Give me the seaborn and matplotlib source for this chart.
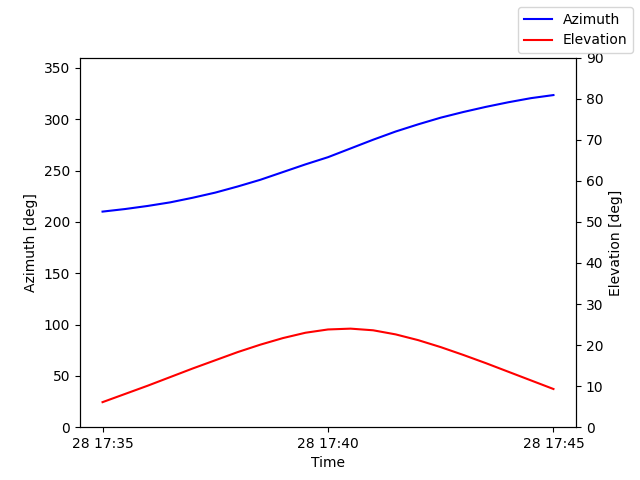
import pandas as pd
import matplotlib
matplotlib.use("Agg")
import matplotlib.pyplot as plt
import matplotlib.dates as mdates
import seaborn as sns

times = pd.date_range("2024-01-28 17:35:00", "2024-01-28 17:45:00", freq="30s")
azimuth = [210, 212.5, 215.5, 219, 223.5, 228.5, 234.5, 241, 248.5, 256, 263,
           271.5, 280, 288, 295, 301.5, 307, 312, 316.5, 320.5, 323.5]
elevation = [6.1, 8.1, 10.1, 12.2, 14.3, 16.3, 18.3, 20.1, 21.7, 23.0, 23.8,
             24.0, 23.6, 22.6, 21.2, 19.5, 17.6, 15.6, 13.5, 11.4, 9.3]

df = pd.DataFrame({"time": times, "az": azimuth, "el": elevation})

fig, ax = plt.subplots(figsize=(6.4, 4.8), dpi=100)
sns.lineplot(data=df, x="time", y="az", color="blue", label="Azimuth", ax=ax, legend=False)
ax2 = ax.twinx()
sns.lineplot(data=df, x="time", y="el", color="red", label="Elevation", ax=ax2, legend=False)

ax.set_ylim(0, 360)
ax2.set_ylim(0, 90)
ax.set_xlabel("Time")
ax.set_ylabel("Azimuth [deg]")
ax2.set_ylabel("Elevation [deg]")
ax.xaxis.set_major_locator(mdates.MinuteLocator(byminute=[35, 40, 45]))
ax.xaxis.set_major_formatter(mdates.DateFormatter("%d %H:%M"))

fig.legend(loc="upper right")
fig.savefig("out.png")
